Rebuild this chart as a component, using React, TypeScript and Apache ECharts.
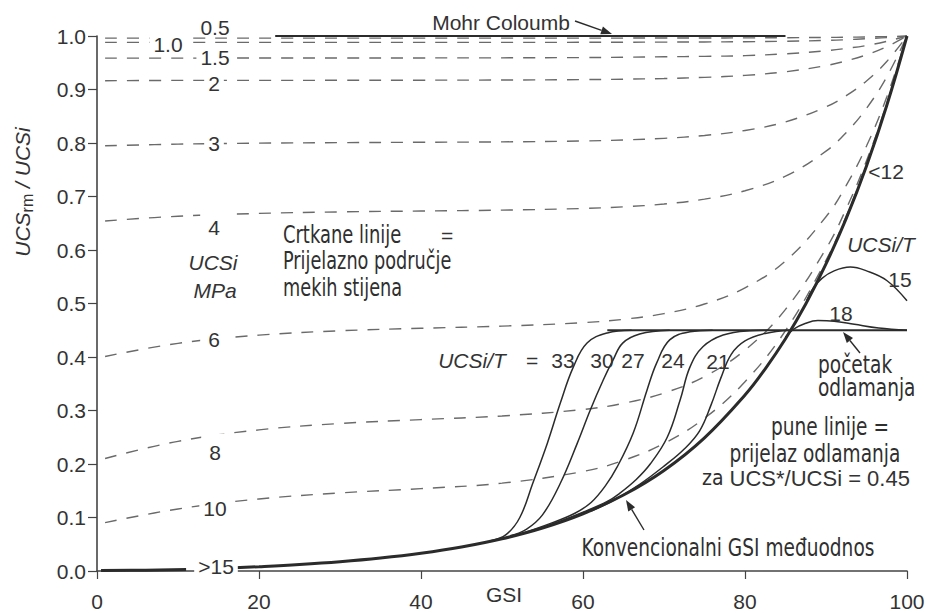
import React, { useEffect, useRef } from "react";
import * as echarts from "echarts";

// ---------- data ----------
const GSI_GRID = [1, 10, 20, 30, 40, 50, 60, 65, 70, 75, 80, 85, 90, 92.5, 95, 97.5, 100];

// dashed curves, UCSi in MPa
const UCSI_0_5 = [0.996, 0.996, 0.996, 0.996, 0.996, 0.996, 0.996, 0.9961, 0.9962, 0.9963, 0.9965, 0.9968, 0.9973, 0.9977, 0.9983, 0.999, 1];
const UCSI_1_0 = [0.988, 0.988, 0.988, 0.988, 0.988, 0.988, 0.9882, 0.9884, 0.9886, 0.9889, 0.9893, 0.9902, 0.9917, 0.993, 0.995, 0.997, 1];
const UCSI_1_5 = [0.9586, 0.9587, 0.9588, 0.9589, 0.959, 0.9592, 0.9597, 0.9603, 0.9611, 0.962, 0.9633, 0.9667, 0.9724, 0.9768, 0.9823, 0.99, 1];
const UCSI_2 = [0.9164, 0.917, 0.917, 0.9172, 0.9174, 0.9177, 0.9185, 0.9193, 0.9205, 0.9227, 0.9264, 0.9331, 0.9447, 0.9535, 0.9648, 0.98, 1];
const UCSI_3 = [0.7948, 0.7979, 0.7997, 0.8007, 0.8014, 0.8021, 0.8038, 0.8057, 0.8087, 0.8141, 0.8234, 0.8395, 0.8675, 0.8885, 0.916, 0.9524, 1];
const UCSI_4 = [0.6543, 0.6631, 0.6684, 0.6712, 0.6729, 0.6745, 0.6776, 0.6807, 0.686, 0.695, 0.7108, 0.738, 0.7847, 0.8195, 0.8648, 0.9236, 1];
const UCSI_6 = [0.401, 0.4255, 0.4408, 0.449, 0.4537, 0.4577, 0.4642, 0.4705, 0.4811, 0.499, 0.5292, 0.5795, 0.6621, 0.7207, 0.7943, 0.8861, 1];
const UCSI_8 = [0.2103, 0.2424, 0.2638, 0.2757, 0.283, 0.2898, 0.3019, 0.3135, 0.3326, 0.3636, 0.4129, 0.489, 0.6023, 0.6772, 0.7668, 0.8736, 1];
const UCSI_10 = [0.0905, 0.116, 0.1346, 0.1459, 0.154, 0.1642, 0.186, 0.2067, 0.2384, 0.2855, 0.3538, 0.4493, 0.5807, 0.6633, 0.7594, 0.871, 1];

// conventional GSI relationship (thick line), with a gap for the ">15" label
const CONV_LOW_GSI = [0.5, 6, 11];
const CONV_LOW_VAL = [0.0008, 0.0016, 0.003];
const CONV_GSI = [17, 20, 25, 30, 35, 40, 45, 50, 55, 60, 65, 70, 75, 80, 82.5, 85, 87.5, 90, 92.5, 95, 97.5, 100];
const CONV_VAL = [0.0061, 0.008, 0.012, 0.0172, 0.0241, 0.0331, 0.0448, 0.0602, 0.0804, 0.107, 0.142, 0.188, 0.249, 0.329, 0.378, 0.434, 0.499, 0.574, 0.659, 0.757, 0.87, 1];

// Mohr Coulomb and spalling plateau
const MOHR_GSI = [22, 85];
const MOHR_VAL = [1, 1];
const PLATEAU_GSI = [63, 100];
const PLATEAU_VAL = [0.45, 0.45];

// spalling transition curves, UCSi/T
const T33 = [[48.5, 0.056], [50.5, 0.068], [52.2, 0.1], [53.8, 0.164], [55.6, 0.239], [57.2, 0.314], [58.8, 0.381], [60.5, 0.426], [63, 0.445], [66, 0.45]];
const T30 = [[51, 0.066], [53, 0.078], [55, 0.105], [57.2, 0.164], [59.3, 0.239], [60.9, 0.301], [62.5, 0.357], [63.7, 0.394], [64.9, 0.426], [67, 0.443], [70.7, 0.45]];
const T27 = [[52, 0.068], [56, 0.089], [59, 0.108], [61, 0.128], [62.8, 0.16], [64.2, 0.194], [66.2, 0.258], [67.9, 0.338], [69.1, 0.389], [70.7, 0.432], [73.2, 0.447], [76, 0.45]];
const T24 = [[56, 0.086], [60, 0.11], [63, 0.13], [64.6, 0.146], [66.5, 0.17], [68.3, 0.2], [70.4, 0.25], [72, 0.32], [73.2, 0.381], [74.8, 0.419], [77.3, 0.441], [80.6, 0.449], [83, 0.45]];
const T21 = [[61, 0.112], [64, 0.134], [67, 0.162], [70, 0.196], [72.5, 0.228], [74.4, 0.262], [75.8, 0.31], [77, 0.36], [78.3, 0.405], [80, 0.43], [82.5, 0.444], [85.5, 0.45]];
const T18 = [[85, 0.437], [86, 0.452], [87.5, 0.463], [89, 0.468], [91, 0.467], [93.5, 0.461], [96.5, 0.454], [100, 0.45]];
const T15 = [[87.6, 0.505], [88.4, 0.528], [89.5, 0.547], [91, 0.561], [93, 0.568], [95, 0.561], [97.5, 0.543], [100, 0.505]];

const X_TICKS = [0, 20, 40, 60, 80, 100];

// ---------- styling ----------
const ARIAL = "'Liberation Sans', Arial, Helvetica, sans-serif";
const NARROW = "'DejaVu Sans Condensed', 'Liberation Sans Narrow', sans-serif";
const INK = "#2b2b2b";
const DASH = "#6a6a6a";

const zip = (xs: number[], ys: number[]) => xs.map((x, i) => [x, ys[i]]);

function dashed(name: string, ys: number[]) {
  return {
    name,
    type: "line",
    data: zip(GSI_GRID, ys),
    smooth: 0.4,
    showSymbol: false,
    symbol: "none",
    silent: true,
    z: 2,
    lineStyle: { type: [12, 10], width: 1.4, color: DASH },
  };
}

function solid(name: string, data: number[][], width: number) {
  return {
    name,
    type: "line",
    data,
    smooth: 0.4,
    showSymbol: false,
    symbol: "none",
    silent: true,
    z: 3,
    lineStyle: { type: "solid", width, color: INK },
  };
}

function txt(text: string, x: number, y: number, extra: any = {}, sx = 1) {
  return {
    type: "text",
    x,
    y,
    scaleX: sx,
    z: 100,
    silent: true,
    style: {
      text,
      fontSize: 21,
      fontFamily: ARIAL,
      fill: "#333",
      align: "center",
      verticalAlign: "middle",
      ...extra,
    },
  };
}

function ntxt(text: string, x: number, y: number, align = "center", sx = 0.86) {
  return txt(text, x, y, { fontFamily: NARROW, fontSize: 24, align, fill: "#2f2f2f" }, sx);
}

function arrow(x1: number, y1: number, x2: number, y2: number) {
  const ang = Math.atan2(y2 - y1, x2 - x1);
  const L = 11;
  const W = 4;
  const bx = x2 - L * Math.cos(ang);
  const by = y2 - L * Math.sin(ang);
  const px = -Math.sin(ang) * W;
  const py = Math.cos(ang) * W;
  return [
    { type: "line", z: 100, silent: true, shape: { x1, y1, x2: bx, y2: by }, style: { stroke: INK, lineWidth: 1.4 } },
    {
      type: "polygon",
      z: 100,
      silent: true,
      shape: { points: [[x2, y2], [bx + px, by + py], [bx - px, by - py]] },
      style: { fill: INK },
    },
  ];
}

const white = { backgroundColor: "#fff", padding: [2, 4] };

export default function App() {
  const ref = useRef<HTMLDivElement>(null);

  useEffect(() => {
    document.body.style.margin = "0";
    const chart = echarts.init(ref.current as HTMLDivElement, null, { renderer: "svg" });

    const option: any = {
      animation: false,
      backgroundColor: "#ffffff",
      grid: { left: 97, right: 22, top: 36, bottom: 42, containLabel: false, outerBoundsMode: "none" },
      xAxis: {
        type: "value",
        min: X_TICKS[0],
        max: X_TICKS[X_TICKS.length - 1],
        interval: 20,
        axisLine: { show: true, lineStyle: { color: "#444", width: 1.6 } },
        axisTick: { show: true, length: 8, lineStyle: { color: "#444", width: 1.2 } },
        axisLabel: { fontSize: 21, color: "#333", fontFamily: ARIAL, margin: 20 },
        splitLine: { show: false },
      },
      yAxis: {
        type: "value",
        min: 0,
        max: 1,
        interval: 0.1,
        axisLine: { show: true, lineStyle: { color: "#444", width: 1.6 } },
        axisTick: { show: true, length: 9, lineStyle: { color: "#444", width: 1.2 } },
        axisLabel: {
          fontSize: 21,
          color: "#333",
          fontFamily: ARIAL,
          margin: 11,
          formatter: (v: number) => v.toFixed(1),
        },
        splitLine: { show: false },
      },
      series: [
        dashed("0.5", UCSI_0_5),
        dashed("1.0", UCSI_1_0),
        dashed("1.5", UCSI_1_5),
        dashed("2", UCSI_2),
        dashed("3", UCSI_3),
        dashed("4", UCSI_4),
        dashed("6", UCSI_6),
        dashed("8", UCSI_8),
        dashed("10", UCSI_10),
        solid("conv-low", zip(CONV_LOW_GSI, CONV_LOW_VAL), 3),
        solid("conv", zip(CONV_GSI, CONV_VAL), 3),
        solid("Mohr Coulomb", zip(MOHR_GSI, MOHR_VAL), 2),
        solid("plateau", zip(PLATEAU_GSI, PLATEAU_VAL), 2.2),
        solid("33", T33, 1.5),
        solid("30", T30, 1.5),
        solid("27", T27, 1.5),
        solid("24", T24, 1.5),
        solid("21", T21, 1.5),
        solid("18", T18, 1.5),
        solid("15", T15, 1.5),
      ],
      graphic: [
        // curve labels (white background makes the gaps in the dashed lines)
        txt("0.5", 215, 27),
        txt("1.0", 168, 44, white),
        txt("1.5", 215, 57, white),
        txt("2", 214, 83, white),
        txt("3", 214, 143, white),
        txt("4", 214, 227, { ...white, padding: [4, 8] }),
        txt("UCSi", 213, 262, { fontStyle: "italic" }),
        txt("MPa", 215, 290, { fontStyle: "italic" }),
        txt("6", 214, 339, { ...white, padding: [4, 8] }),
        txt("8", 215, 452, { ...white, padding: [8, 8] }),
        txt("10", 215, 508, white),
        txt(">15", 216, 566, { ...white, padding: [2, 4] }),
        // x-axis title
        txt("GSI", 504, 594),
        // dashed-line note
        ntxt("Crtkane linije", 283, 235, "left", 0.83),
        txt("=", 447, 235),
        ntxt("Prijelazno područje", 283, 261, "left", 0.82),
        ntxt("mekih stijena", 283, 288, "left", 0.82),
        // top
        txt("Mohr Coloumb", 501, 22),
        ...arrow(575, 21, 612, 34),
        // right side
        txt("<12", 886, 171),
        txt("UCSi/T", 881, 244, { fontStyle: "italic" }),
        txt("15", 900, 279),
        txt("18", 841, 313),
        // UCSi/T row
        txt("UCSi/T", 472, 360, { fontStyle: "italic" }),
        txt("=", 532, 360),
        txt("33", 563, 360),
        txt("30", 602, 360),
        txt("27", 633, 360),
        txt("24", 673, 360),
        txt("21", 718, 361),
        // spalling notes
        ntxt("početak", 818, 364, "left"),
        ntxt("odlamanja", 818, 387, "left"),
        ...arrow(860, 353, 843, 332),
        ntxt("pune linije =", 830, 426),
        ntxt("prijelaz odlamanja", 815, 453),
        txt("{n|za }{a|UCS*/UCSi = 0.45}", 806, 478, {
          rich: {
            n: { fontFamily: NARROW, fontSize: 21, fill: "#2f2f2f" },
            a: { fontFamily: ARIAL, fontSize: 22, fill: "#333" },
          },
        }),
        ntxt("Konvencionalni GSI međuodnos", 728, 547),
        ...arrow(644, 530, 626, 500),
        // y-axis title
        {
          type: "text",
          x: 22,
          y: 192,
          rotation: Math.PI / 2,
          z: 100,
          silent: true,
          style: {
            text: "{a|UCS}{b|rm}{a| / UCSi}",
            align: "center",
            verticalAlign: "middle",
            rich: {
              a: { fontSize: 21, fontStyle: "italic", fontFamily: ARIAL, fill: "#333", lineHeight: 26 },
              b: { fontSize: 16, fontFamily: ARIAL, fill: "#333", lineHeight: 14, verticalAlign: "bottom" },
            },
          },
        },
      ],
    };

    chart.setOption(option);
    return () => {
      chart.dispose();
    };
  }, []);

  return (
    <div
      ref={ref}
      style={{ position: "fixed", left: 0, top: 0, width: 929, height: 613, background: "#fff" }}
    />
  );
}
